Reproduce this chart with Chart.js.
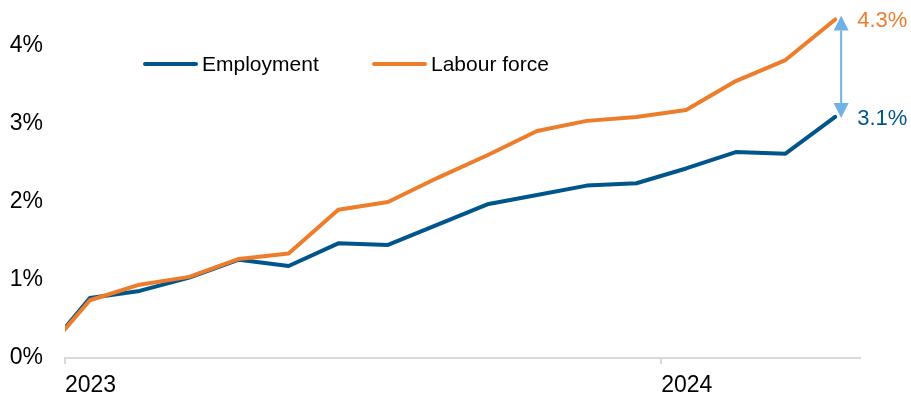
<!DOCTYPE html>
<html>
<head>
<meta charset="utf-8">
<script src="https://cdn.jsdelivr.net/npm/chart.js@4.4.1/dist/chart.umd.min.js"></script>
<style>
  html, body { margin: 0; padding: 0; background: #fff; }
</style>
</head>
<body>
<canvas id="chart" width="911" height="395"></canvas>
<script>
// cumulative growth since Dec 2022, per cent
const months = [
    'Dec 2022',
    'Jan 2023', 'Feb 2023', 'Mar 2023', 'Apr 2023', 'May 2023', 'Jun 2023',
    'Jul 2023', 'Aug 2023', 'Sep 2023', 'Oct 2023', 'Nov 2023', 'Dec 2023',
    'Jan 2024', 'Feb 2024', 'Mar 2024', 'Apr 2024'
];
const employment = [0, 0.77, 0.86, 1.03, 1.26, 1.18, 1.47, 1.45, 1.71, 1.97, 2.09, 2.21, 2.24, 2.43, 2.64, 2.62, 3.09];
const labourForce = [0, 0.74, 0.94, 1.04, 1.27, 1.34, 1.90, 2.00, 2.31, 2.60, 2.91, 3.04, 3.09, 3.18, 3.55, 3.82, 4.34];
const yTicks = [0, 1, 2, 3, 4];

const blue = '#00558b';
const orange = '#ee7d2b';
const arrowColor = '#6fb2e6';
const fontFamily = "'Liberation Sans', Arial, sans-serif";

// each month sits in the middle of its slot, slot i starts at i - 1
const toPoints = (values) => values.map((v, i) => ({ x: i - 0.5, y: v }));

const yearTicks = [];
months.forEach((m, i) => {
    if (m.startsWith('Jan')) {
        yearTicks.push({ value: i - 1, label: m.split(' ')[1] });
    }
});

Chart.defaults.font.family = fontFamily;
Chart.defaults.font.size = 23;
Chart.defaults.color = '#000';

const extras = {
    id: 'extras',
    afterDatasetsDraw(chart) {
        const ctx = chart.ctx;
        const xs = chart.scales.x;
        const ys = chart.scales.y;
        const last = months.length - 1;
        const lastX = xs.getPixelForValue(last - 0.5);
        const yTop = ys.getPixelForValue(labourForce[last]);
        const yBot = ys.getPixelForValue(employment[last]);

        ctx.save();

        // legend
        const items = [
            { label: 'Employment', color: blue, x: 143 },
            { label: 'Labour force', color: orange, x: 372 }
        ];
        ctx.lineWidth = 4;
        ctx.lineCap = 'round';
        ctx.font = '21px ' + fontFamily;
        ctx.textBaseline = 'middle';
        ctx.textAlign = 'left';
        items.forEach((it) => {
            ctx.strokeStyle = it.color;
            ctx.beginPath();
            ctx.moveTo(it.x + 2, 64);
            ctx.lineTo(it.x + 53, 64);
            ctx.stroke();
            ctx.fillStyle = '#000';
            ctx.fillText(it.label, it.x + 59, 65);
        });

        // gap arrow
        const ax = lastX + 6;
        const tipTop = yTop - 4;
        const tipBot = yBot + 1;
        const head = 15;
        ctx.strokeStyle = arrowColor;
        ctx.fillStyle = arrowColor;
        ctx.lineWidth = 2;
        ctx.lineCap = 'butt';
        ctx.beginPath();
        ctx.moveTo(ax, tipTop + head);
        ctx.lineTo(ax, tipBot - head);
        ctx.stroke();
        ctx.beginPath();
        ctx.moveTo(ax, tipTop);
        ctx.lineTo(ax - 7.5, tipTop + head);
        ctx.lineTo(ax + 7.5, tipTop + head);
        ctx.closePath();
        ctx.fill();
        ctx.beginPath();
        ctx.moveTo(ax, tipBot);
        ctx.lineTo(ax - 7.5, tipBot - head);
        ctx.lineTo(ax + 7.5, tipBot - head);
        ctx.closePath();
        ctx.fill();

        // end labels
        ctx.font = '22px ' + fontFamily;
        ctx.fillStyle = orange;
        ctx.fillText(labourForce[last].toFixed(1) + '%', lastX + 22, yTop + 1);
        ctx.fillStyle = blue;
        ctx.fillText(employment[last].toFixed(1) + '%', lastX + 22, yBot + 2);

        ctx.restore();
    }
};

const lineStyle = {
    borderWidth: 4,
    pointRadius: 0,
    tension: 0,
    borderJoinStyle: 'round',
    borderCapStyle: 'round',
    clip: { left: 0, top: false, right: false, bottom: false }
};

new Chart(document.getElementById('chart').getContext('2d'), {
    type: 'line',
    data: {
        datasets: [
            Object.assign({
                label: 'Employment',
                data: toPoints(employment),
                borderColor: blue,
                backgroundColor: blue,
                order: 2
            }, lineStyle),
            Object.assign({
                label: 'Labour force',
                data: toPoints(labourForce),
                borderColor: orange,
                backgroundColor: orange,
                order: 1
            }, lineStyle)
        ]
    },
    options: {
        responsive: false,
        devicePixelRatio: 1,
        animation: false,
        layout: { padding: { top: 7, right: 51, bottom: 0, left: 0 } },
        plugins: {
            legend: { display: false },
            tooltip: { enabled: false }
        },
        scales: {
            x: {
                type: 'linear',
                min: 0,
                max: months.length - 1,
                afterFit: (s) => {
                    s.height = 37;
                    s.paddingLeft = 0;
                    s.paddingRight = 0;
                },
                afterBuildTicks: (s) => { s.ticks = yearTicks.map((t) => ({ value: t.value })); },
                ticks: {
                    align: 'start',
                    padding: 8,
                    maxRotation: 0,
                    callback: (v) => {
                        const t = yearTicks.find((y) => y.value === v);
                        return t ? t.label : '';
                    }
                },
                grid: {
                    drawOnChartArea: false,
                    drawTicks: true,
                    tickLength: 6,
                    lineWidth: 2,
                    color: '#d9d9d9'
                },
                border: { color: '#d9d9d9', width: 2 }
            },
            y: {
                min: 0,
                max: 4.5,
                afterFit: (s) => {
                    s.width = 65;
                    s.paddingTop = 0;
                    s.paddingBottom = 0;
                },
                afterBuildTicks: (s) => { s.ticks = yTicks.map((v) => ({ value: v })); },
                ticks: {
                    padding: 22,
                    callback: (v) => v + '%'
                },
                grid: { display: false, drawTicks: false },
                border: { display: false }
            }
        }
    },
    plugins: [extras]
});
</script>
</body>
</html>
